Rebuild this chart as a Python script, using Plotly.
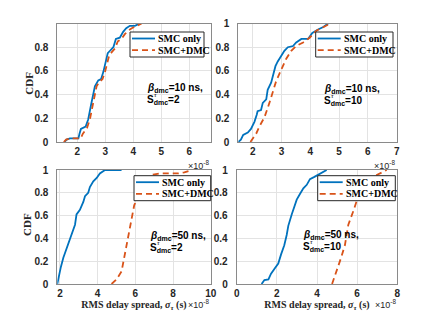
import plotly.graph_objects as go

W, H = 440, 319

# ---------------- data (RMS delay spread in units of 1e-8 s, CDF) ----------------
tl_smc_x = [1.54, 1.62, 1.74, 2.04, 2.08, 2.13, 2.30, 2.39, 2.49, 2.57, 2.63, 2.75, 2.85, 2.93, 2.99,
            3.09, 3.17, 3.29, 3.38, 3.52, 3.64, 3.75, 3.88, 4.06, 4.24]
tl_smc_y = [0.00, 0.02, 0.03, 0.03, 0.07, 0.11, 0.13, 0.19, 0.31, 0.40, 0.47, 0.52, 0.53, 0.59, 0.66,
            0.75, 0.77, 0.80, 0.87, 0.88, 0.93, 0.96, 0.98, 0.98, 1.00]
tl_dmc_x = [1.52, 1.60, 1.75, 2.12, 2.20, 2.35, 2.45, 2.55, 2.63, 2.69, 2.80, 2.90, 2.99, 3.05, 3.14,
            3.24, 3.35, 3.45, 3.58, 3.70, 3.82, 3.95, 4.12, 4.30]
tl_dmc_y = [0.00, 0.02, 0.03, 0.03, 0.07, 0.12, 0.19, 0.31, 0.40, 0.47, 0.51, 0.53, 0.59, 0.65, 0.73,
            0.76, 0.79, 0.85, 0.87, 0.91, 0.94, 0.96, 0.98, 1.00]

tr_smc_x = [1.50, 1.59, 1.67, 1.83, 1.94, 2.06, 2.14, 2.17, 2.29, 2.35, 2.47, 2.52, 2.64, 2.72, 2.79,
            2.87, 2.99, 3.10, 3.22, 3.40, 3.51, 3.69, 3.92, 4.07, 4.27, 4.45, 4.62]
tr_smc_y = [0.00, 0.02, 0.06, 0.08, 0.11, 0.17, 0.23, 0.26, 0.27, 0.33, 0.36, 0.44, 0.50, 0.57, 0.64,
            0.68, 0.73, 0.77, 0.80, 0.81, 0.84, 0.87, 0.87, 0.92, 0.95, 0.97, 1.00]
tr_dmc_x = [1.92, 2.12, 2.23, 2.41, 2.58, 2.70, 2.81, 2.99, 3.16, 3.34, 3.51, 3.75, 3.98, 4.21, 4.45, 4.70]
tr_dmc_y = [0.00, 0.07, 0.13, 0.21, 0.33, 0.43, 0.51, 0.61, 0.70, 0.77, 0.81, 0.84, 0.88, 0.94, 0.97, 1.00]

bl_smc_x = [1.86, 1.91, 2.05, 2.18, 2.35, 2.53, 2.65, 2.80, 2.88, 3.06, 3.24, 3.33, 3.50, 3.59, 3.77,
            3.95, 4.12, 4.39, 5.27]
bl_smc_y = [0.00, 0.05, 0.15, 0.23, 0.31, 0.41, 0.46, 0.52, 0.61, 0.65, 0.72, 0.77, 0.80, 0.85, 0.90,
            0.93, 0.97, 1.00, 1.00]
bl_dmc_x = [4.74, 5.00, 5.27, 5.45, 5.59, 5.71, 5.84, 5.94, 6.07, 6.30, 6.60, 6.95, 7.30, 8.30, 8.60, 9.00]
bl_dmc_y = [0.00, 0.04, 0.11, 0.26, 0.40, 0.49, 0.61, 0.69, 0.74, 0.84, 0.91, 0.96, 0.97, 0.97, 0.98, 1.00]

br_smc_x = [1.24, 1.38, 1.58, 1.71, 1.91, 2.07, 2.21, 2.37, 2.49, 2.57, 2.74, 2.87, 2.99, 3.15, 3.32,
            3.49, 3.65, 3.87, 4.07, 4.31, 4.48]
br_smc_y = [0.00, 0.035, 0.04, 0.09, 0.14, 0.18, 0.26, 0.34, 0.43, 0.51, 0.61, 0.67, 0.74, 0.79, 0.84,
            0.87, 0.92, 0.94, 0.96, 0.985, 1.00]
br_dmc_x = [4.75, 4.98, 5.20, 5.39, 5.56, 5.81, 5.98, 6.14, 6.40, 6.80, 7.00, 7.20, 7.47]
br_dmc_y = [0.00, 0.11, 0.23, 0.34, 0.52, 0.64, 0.73, 0.79, 0.88, 0.94, 0.96, 0.98, 1.00]

series_names = ["SMC only", "SMC+DMC"]
beta_labels = ["10", "10", "50", "50"]
s_labels = ["2", "10", "2", "10"]

tl_xticks = [2, 3, 4, 5, 6]
tr_xticks = [2, 3, 4, 5, 6, 7]
bl_xticks = [2, 4, 6, 8, 10]
br_xticks = [0, 2, 4, 6, 8]
y_ticks = [0, 0.2, 0.4, 0.6, 0.8, 1]
y_ticks_tl = [0, 0.2, 0.4, 0.6, 0.8]

# ---------------- style ----------------
BLUE = "#0072BD"
ORANGE = "#D95319"
AXC = "#8a8a8a"
GRID = "#e3e3e3"
TXT = "#262626"
SANS = "Liberation Sans, Arial, sans-serif"
SERIF = "Liberation Serif, Times New Roman, serif"


def fx(px):
    return px / W


def fy(py):
    return 1 - py / H


fig = go.Figure()

panels = [
    ("x", "y", tl_smc_x, tl_smc_y, tl_dmc_x, tl_dmc_y),
    ("x2", "y2", tr_smc_x, tr_smc_y, tr_dmc_x, tr_dmc_y),
    ("x3", "y3", bl_smc_x, bl_smc_y, bl_dmc_x, bl_dmc_y),
    ("x4", "y4", br_smc_x, br_smc_y, br_dmc_x, br_dmc_y),
]
for xa, ya, sx, sy, dx, dy in panels:
    fig.add_trace(go.Scatter(x=sx, y=sy, xaxis=xa, yaxis=ya, mode="lines",
                             line=dict(color=BLUE, width=1.8), name=series_names[0],
                             showlegend=False, hoverinfo="skip"))
    fig.add_trace(go.Scatter(x=dx, y=dy, xaxis=xa, yaxis=ya, mode="lines",
                             line=dict(color=ORANGE, width=1.8, dash="6px,4px"), name=series_names[1],
                             showlegend=False, hoverinfo="skip"))

tickfont = dict(family=SANS, size=10, color=TXT, weight="bold")


def xax(domain, rng, ticks, anchor, title=None):
    d = dict(domain=domain, range=rng, tickvals=ticks, ticktext=[str(t) for t in ticks],
             anchor=anchor, automargin=False,
             showline=True, mirror=True, linecolor=AXC, linewidth=1,
             showgrid=True, gridcolor=GRID, gridwidth=1, zeroline=False,
             ticks="", tickfont=tickfont, ticklabelstandoff=0)
    if title:
        d["title"] = dict(text=title, font=dict(family=SERIF, size=10, color=TXT, weight="bold"),
                          standoff=2)
    return d


def yax(domain, ticks, anchor):
    return dict(domain=domain, range=[0, 1], tickvals=ticks, ticktext=[f"{t:g}" for t in ticks],
                anchor=anchor, automargin=False,
                showline=True, mirror=True, linecolor=AXC, linewidth=1,
                showgrid=True, gridcolor=GRID, gridwidth=1, zeroline=False,
                ticks="", tickfont=tickfont, ticklabelstandoff=6)


top_dom = [fy(142), fy(23.5)]
bot_dom = [fy(284), fy(170)]
xtitle = "RMS delay spread, <i>σ</i><sub><i>τ</i></sub> (s)"

fig.update_layout(
    width=W, height=H, margin=dict(l=0, r=0, t=0, b=0),
    paper_bgcolor="white", plot_bgcolor="white", showlegend=False,
    xaxis=xax([fx(57.3), fx(210.7)], [1.286, 6.77], tl_xticks, "y"),
    yaxis=yax(top_dom, y_ticks_tl, "x"),
    xaxis2=xax([fx(238.3), fx(396.7)], [1.5, 7], tr_xticks, "y2"),
    yaxis2=yax(top_dom, y_ticks, "x2"),
    xaxis3=xax([fx(57.3), fx(210.7)], [1.86, 10], bl_xticks, "y3", xtitle),
    yaxis3=yax(bot_dom, y_ticks, "x3"),
    xaxis4=xax([fx(236.7), fx(397.3)], [0, 8], br_xticks, "y4", xtitle),
    yaxis4=yax(bot_dom, y_ticks, "x4"),
)

shapes = []
ann = []


def legend_box(x0, y0, x1, y1):
    shapes.append(dict(type="rect", xref="paper", yref="paper", x0=fx(x0), x1=fx(x1),
                       y0=fy(y1), y1=fy(y0), line=dict(color="#262626", width=1),
                       fillcolor="white", layer="above"))
    ly1 = y0 + 6.5
    ly2 = y0 + 18.2
    shapes.append(dict(type="line", xref="paper", yref="paper", x0=fx(x0 + 2), x1=fx(x0 + 25),
                       y0=fy(ly1), y1=fy(ly1), line=dict(color=BLUE, width=1.8), layer="above"))
    shapes.append(dict(type="line", xref="paper", yref="paper", x0=fx(x0 + 2), x1=fx(x0 + 25),
                       y0=fy(ly2), y1=fy(ly2), line=dict(color=ORANGE, width=1.8, dash="6px,4px"),
                       layer="above"))
    for txt, ly in ((series_names[0], ly1), (series_names[1], ly2)):
        ann.append(dict(xref="paper", yref="paper", x=fx(x0 + 26), y=fy(ly), xanchor="left",
                        yanchor="middle", showarrow=False, text=txt,
                        font=dict(family=SERIF, size=10, color="black", weight="bold")))


legend_box(130, 32, 204, 57)
legend_box(315.7, 32, 393, 57)
legend_box(134, 175.7, 210.7, 200.7)
legend_box(317.7, 175.7, 395.3, 200.7)

param_pos = [(145, 88, 100), (322, 89, 100.5), (148, 236, 247.5), (301, 235, 247)]
for (px, pyb, pys), b, s in zip(param_pos, beta_labels, s_labels):
    ann.append(dict(xref="paper", yref="paper", x=fx(px), y=fy(pyb), xanchor="left", yanchor="middle",
                    showarrow=False,
                    text=f"<i>β</i><sub>dmc</sub>={b} ns,",
                    font=dict(family=SANS, size=10, color="black", weight="bold")))
    ann.append(dict(xref="paper", yref="paper", x=fx(px), y=fy(pys), xanchor="left", yanchor="middle",
                    showarrow=False, text=f"S<sub>dmc</sub>={s}",
                    font=dict(family=SANS, size=10, color="black", weight="bold")))
    ann.append(dict(xref="paper", yref="paper", x=fx(px + 7), y=fy(pys - 5), xanchor="left",
                    yanchor="middle", showarrow=False, text="<i>τ</i>",
                    font=dict(family=SERIF, size=7, color="black")))

# y-axis titles
for cx, cy in ((29, 82.7), (27, 225)):
    ann.append(dict(xref="paper", yref="paper", x=fx(cx), y=fy(cy), xanchor="center", yanchor="middle",
                    showarrow=False, text="CDF", textangle=-90,
                    font=dict(family=SERIF, size=11, color=TXT, weight="bold")))

# exponent labels
for rx, py in ((211, 165), (397, 165), (211, 304), (397.5, 304)):
    ann.append(dict(xref="paper", yref="paper", x=fx(rx), y=fy(py), xanchor="right", yanchor="middle",
                    showarrow=False, text="×10<sup>-8</sup>",
                    font=dict(family=SANS, size=9, color=TXT)))

fig.update_layout(shapes=shapes, annotations=ann)
fig.write_html("out.html", config={"displayModeBar": False},
               post_script="document.body.style.margin='0';document.body.style.overflow='hidden';")
